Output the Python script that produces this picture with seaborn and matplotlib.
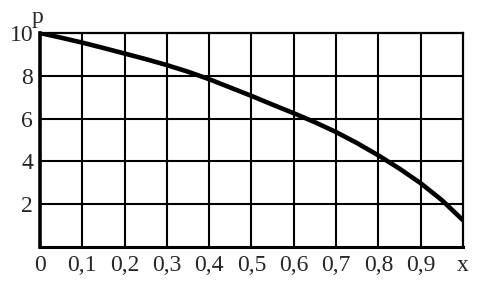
import matplotlib
matplotlib.use("Agg")
import matplotlib.pyplot as plt
import seaborn as sns
import pandas as pd

x_vals = [0.0, 0.05, 0.1, 0.15, 0.2, 0.25, 0.3, 0.35, 0.4, 0.45, 0.5,
          0.55, 0.6, 0.65, 0.7, 0.75, 0.8, 0.85, 0.9, 0.95, 1.0]
p_vals = [10.0, 9.78, 9.55, 9.3, 9.04, 8.78, 8.5, 8.19, 7.84, 7.45, 7.06,
          6.65, 6.25, 5.83, 5.37, 4.85, 4.28, 3.66, 2.98, 2.19, 1.25]
x_ticks = [0.0, 0.1, 0.2, 0.3, 0.4, 0.5, 0.6, 0.7, 0.8, 0.9, 1.0]
x_labels = ["0", "0,1", "0,2", "0,3", "0,4", "0,5", "0,6", "0,7", "0,8", "0,9", "x"]
y_ticks = [2, 4, 6, 8, 10]
y_labels = ["2", "4", "6", "8", "10"]

sns.set_style("white")
plt.rcParams['font.family'] = ['Liberation Serif', 'DejaVu Serif']

df = pd.DataFrame({"x": x_vals, "p": p_vals})

fig = plt.figure(figsize=(4.89, 2.85), dpi=100)
ax = fig.add_axes([40/489, 1-247/285, 423/489, 214/285])

for t in x_ticks[1:-1]:
    ax.axvline(t, color="black", lw=1.5, zorder=1)
for t in y_ticks[:-1]:
    ax.axhline(t, color="black", lw=1.5, zorder=1)

sns.lineplot(data=df, x="x", y="p", ax=ax, color="black", lw=3.3, zorder=3)

ax.set_xlim(0, 1)
ax.set_ylim(0, 10)
ax.set_xticks(x_ticks)
ax.set_xticklabels(x_labels, fontsize=17)
ax.set_yticks(y_ticks)
ax.set_yticklabels(y_labels, fontsize=17)
ax.tick_params(axis="x", length=0, pad=6)
ax.tick_params(axis="y", length=0, pad=5)
ax.set_xlabel("")
ax.set_ylabel("")
for s in ax.spines.values():
    s.set_visible(True)
    s.set_color("black")
    s.set_linewidth(1.6)
ax.spines["left"].set_linewidth(2.6)
ax.spines["bottom"].set_linewidth(2.2)

ax.text(-0.007, 10.47, "p", fontsize=17, ha="center", va="baseline",
        transform=ax.transData)

fig.savefig("out.png", dpi=100)
